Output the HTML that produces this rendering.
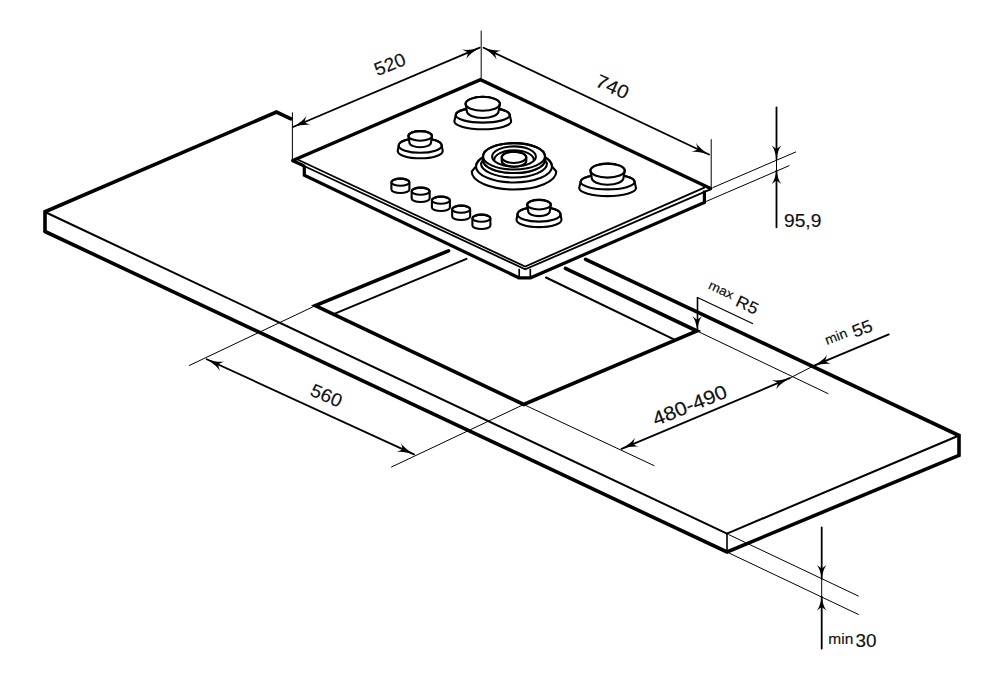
<!DOCTYPE html>
<html><head><meta charset="utf-8"><style>
html,body{margin:0;padding:0;background:#fff;}
body{width:1000px;height:690px;overflow:hidden;}
svg{display:block;}
text{font-family:"Liberation Sans",sans-serif;fill:#111;stroke:#111;stroke-width:0.15px;}
</style></head><body>
<svg width="1000" height="690" viewBox="0 0 1000 690">
<rect width="1000" height="690" fill="#fff"/>
<g fill="none" stroke="#000">
<path d="M45,212 L727,533.6" stroke-width="2" stroke-linecap="round" stroke-linejoin="miter"/>
<path d="M727,533.6 L959,435.5" stroke-width="2" stroke-linecap="round" stroke-linejoin="miter"/>
<path d="M727,533.6 L727,552" stroke-width="1.6" stroke-linecap="round" stroke-linejoin="miter"/>
<path d="M45,231.5 L45,211.8 L276.5,112 L292,119.3" stroke-width="3.6" stroke-linecap="butt" stroke-linejoin="miter"/>
<path d="M585.6,259.3 L959,435.5 L959,455.3 L727,552 L45,231.5" stroke-width="3.6" stroke-linecap="round" stroke-linejoin="miter"/>
<path d="M448.5,250.8 L315.3,305.7 L523.7,404.5 L697,331 L565.4,268.4" stroke-width="3.6" stroke-linecap="round" stroke-linejoin="miter"/>
<path d="M334.2,313.8 L466.5,258.9" stroke-width="2" stroke-linecap="round" stroke-linejoin="miter"/>
<path d="M546,277.5 L673.9,339.4" stroke-width="2" stroke-linecap="round" stroke-linejoin="miter"/>
<path d="M315.3,305.7 L189.3,365.5" stroke-width="1" stroke-linecap="round" stroke-linejoin="miter"/>
<path d="M523.7,404.5 L391.5,467" stroke-width="1" stroke-linecap="round" stroke-linejoin="miter"/>
<path d="M523.7,404.5 L654,465.6" stroke-width="1" stroke-linecap="round" stroke-linejoin="miter"/>
<path d="M697,331 L828,393.6" stroke-width="1" stroke-linecap="round" stroke-linejoin="miter"/>
<path d="M728.7,534.6 L858.3,596" stroke-width="1" stroke-linecap="round" stroke-linejoin="miter"/>
<path d="M728.7,552.9 L858.3,614.4" stroke-width="1" stroke-linecap="round" stroke-linejoin="miter"/>
<path d="M292.4,112.8 L292.4,159.3" stroke-width="1" stroke-linecap="round" stroke-linejoin="miter"/>
<path d="M481.2,31 L481.2,77.7" stroke-width="1" stroke-linecap="round" stroke-linejoin="miter"/>
<path d="M711.2,139.6 L711.2,186.7" stroke-width="1" stroke-linecap="round" stroke-linejoin="miter"/>
<path d="M712.9,187.6 L795.7,152" stroke-width="1" stroke-linecap="round" stroke-linejoin="miter"/>
<path d="M705.8,201.6 L789.1,165.7" stroke-width="1" stroke-linecap="round" stroke-linejoin="miter"/>
<path d="M292.8,160.5 L480.5,79.7 L710.6,188.5 L704.4,191.5 L704.4,202.4 L530.6,277.8 L518.8,277.8 L304.3,175.3 L304.3,166Z" stroke-width="0.1" fill="#fff" stroke-linejoin="miter"/>
<path d="M304.3,165.5 L304.3,175.3 L518.8,277.8 L530.6,277.8 L704.4,202.4 L704.4,190.5" stroke-width="3.2" stroke-linecap="butt" stroke-linejoin="miter"/>
<path d="M519.2,268.8 L519.2,277.5" stroke-width="1.7" stroke-linecap="butt" stroke-linejoin="miter"/>
<path d="M530.3,268.8 L530.3,277.5" stroke-width="1.7" stroke-linecap="butt" stroke-linejoin="miter"/>
<path d="M304.3,166 L292.8,160.8" stroke-width="3.2" stroke-linecap="butt" stroke-linejoin="miter"/>
<path d="M292.8,160.8 L525.2,269.3 L710.4,189.4" stroke-width="1.8" stroke-linecap="round" stroke-linejoin="miter"/>
<path d="M296,158.8 L525.2,266.55 L704.3,187.6" stroke-width="1.8" stroke-linecap="round" stroke-linejoin="miter"/>
<path d="M292.8,160.5 L480.5,79.7 L710.6,188.5" stroke-width="3.4" stroke-linecap="round" stroke-linejoin="miter"/>
<path d="M455.75,115 A27,7.6 0 0 1 509.75,115 L511.15,121.3 A28.4,8 0 0 1 454.35,121.3Z" stroke-width="2.1" fill="#fff" stroke-linejoin="round"/>
<ellipse cx="482.75" cy="115" rx="27" ry="7.6" stroke-width="2.1" fill="none"/>
<path d="M465.55,103.8 A17.2,7 0 0 1 499.95,103.8 L498.65,111 A15.9,7 0 0 1 466.85,111Z" stroke-width="2.1" fill="#fff" stroke-linejoin="round"/>
<ellipse cx="482.75" cy="103.8" rx="17.2" ry="7" stroke-width="2.1" fill="none"/>
<path d="M398.7,145.4 A21.5,7.4 0 0 1 441.7,145.4 L442.7,150.9 A22.5,7.4 0 0 1 397.7,150.9Z" stroke-width="2.1" fill="#fff" stroke-linejoin="round"/>
<ellipse cx="420.2" cy="145.4" rx="21.5" ry="7.4" stroke-width="2.1" fill="none"/>
<path d="M408.4,135.9 A11.8,4.8 0 0 1 432,135.9 L431,142.5 A10.8,4.8 0 0 1 409.4,142.5Z" stroke-width="2.1" fill="#fff" stroke-linejoin="round"/>
<ellipse cx="420.2" cy="135.9" rx="11.8" ry="4.8" stroke-width="2.1" fill="none"/>
<path d="M580.6,181.8 A27,7.6 0 0 1 634.6,181.8 L636,188.1 A28.4,8 0 0 1 579.2,188.1Z" stroke-width="2.1" fill="#fff" stroke-linejoin="round"/>
<ellipse cx="607.6" cy="181.8" rx="27" ry="7.6" stroke-width="2.1" fill="none"/>
<path d="M590.4,170.6 A17.2,7 0 0 1 624.8,170.6 L623.5,177.8 A15.9,7 0 0 1 591.7,177.8Z" stroke-width="2.1" fill="#fff" stroke-linejoin="round"/>
<ellipse cx="607.6" cy="170.6" rx="17.2" ry="7" stroke-width="2.1" fill="none"/>
<path d="M517.5,214.2 A21.5,7.4 0 0 1 560.5,214.2 L561.5,219.7 A22.5,7.4 0 0 1 516.5,219.7Z" stroke-width="2.1" fill="#fff" stroke-linejoin="round"/>
<ellipse cx="539" cy="214.2" rx="21.5" ry="7.4" stroke-width="2.1" fill="none"/>
<path d="M527.2,204.7 A11.8,4.8 0 0 1 550.8,204.7 L549.8,211.3 A10.8,4.8 0 0 1 528.2,211.3Z" stroke-width="2.1" fill="#fff" stroke-linejoin="round"/>
<ellipse cx="539" cy="204.7" rx="11.8" ry="4.8" stroke-width="2.1" fill="none"/>
<path d="M476,166.5 A38,16 0 0 1 552,166.5 L556.3,171.5 A42.3,18 0 0 1 471.7,171.5Z" stroke-width="2.1" fill="#fff" stroke-linejoin="round"/>
<ellipse cx="514" cy="166.5" rx="38" ry="16" stroke-width="2.1" fill="none"/>
<path d="M483,160 A31,13 0 0 1 545,160 L547,163.5 A33,14 0 0 1 481,163.5Z" stroke-width="2.1" fill="#fff" stroke-linejoin="round"/>
<ellipse cx="514" cy="160" rx="31" ry="13" stroke-width="2.1" fill="none"/>
<path d="M483,156.3 A31,13.2 0 0 1 545,156.3 L545,160 A31,13 0 0 1 483,160Z" stroke-width="2.1" fill="#fff" stroke-linejoin="round"/>
<ellipse cx="514" cy="156.3" rx="31" ry="13.2" stroke-width="2.1" fill="none"/>
<ellipse cx="514" cy="156.5" rx="21.9" ry="10.1" stroke-width="2.1" fill="none"/>
<path d="M494.2,160 A19.8,9.8 0 0 1 533.8,160" stroke-width="2.1"/>
<path d="M501.7,157.35 A12.3,5.6 0 0 1 526.3,157.35 L526.3,161 A12.3,5.6 0 0 1 501.7,161Z" stroke-width="2.1" fill="#fff" stroke-linejoin="round"/>
<ellipse cx="514" cy="157.35" rx="12.3" ry="5.6" stroke-width="2.1" fill="none"/>
<path d="M391.4,182.2 A9,3.6 0 0 1 409.4,182.2 L409.4,189.4 A9,3.6 0 0 1 391.4,189.4Z" stroke-width="2.1" fill="#fff" stroke-linejoin="round"/>
<ellipse cx="400.4" cy="182.2" rx="9" ry="3.6" stroke-width="2.1" fill="none"/>
<path d="M411.65,191.2 A9,3.6 0 0 1 429.65,191.2 L429.65,198.4 A9,3.6 0 0 1 411.65,198.4Z" stroke-width="2.1" fill="#fff" stroke-linejoin="round"/>
<ellipse cx="420.65" cy="191.2" rx="9" ry="3.6" stroke-width="2.1" fill="none"/>
<path d="M431.9,200.2 A9,3.6 0 0 1 449.9,200.2 L449.9,207.4 A9,3.6 0 0 1 431.9,207.4Z" stroke-width="2.1" fill="#fff" stroke-linejoin="round"/>
<ellipse cx="440.9" cy="200.2" rx="9" ry="3.6" stroke-width="2.1" fill="none"/>
<path d="M452.15,209.2 A9,3.6 0 0 1 470.15,209.2 L470.15,216.4 A9,3.6 0 0 1 452.15,216.4Z" stroke-width="2.1" fill="#fff" stroke-linejoin="round"/>
<ellipse cx="461.15" cy="209.2" rx="9" ry="3.6" stroke-width="2.1" fill="none"/>
<path d="M472.4,218.2 A9,3.6 0 0 1 490.4,218.2 L490.4,225.4 A9,3.6 0 0 1 472.4,225.4Z" stroke-width="2.1" fill="#fff" stroke-linejoin="round"/>
<ellipse cx="481.4" cy="218.2" rx="9" ry="3.6" stroke-width="2.1" fill="none"/>
<path d="M293,127 L479.7,47.7" stroke-width="1.8" stroke-linecap="round" stroke-linejoin="miter"/>
<path transform="translate(293,127) rotate(-23.01)" d="M0,0 C7.65,-1.17 13.6,-2.65 17,-5.3 Q13.7,-1.85 12.5,0 Q13.7,1.85 17,5.3 C13.6,2.65 7.65,1.17 0,0Z" fill="#000" stroke="none"/>
<path transform="translate(479.7,47.7) rotate(156.99)" d="M0,0 C7.65,-1.17 13.6,-2.65 17,-5.3 Q13.7,-1.85 12.5,0 Q13.7,1.85 17,5.3 C13.6,2.65 7.65,1.17 0,0Z" fill="#000" stroke="none"/>
<path d="M483.6,47.7 L709,154.5" stroke-width="1.8" stroke-linecap="round" stroke-linejoin="miter"/>
<path transform="translate(483.6,47.7) rotate(25.35)" d="M0,0 C7.65,-1.17 13.6,-2.65 17,-5.3 Q13.7,-1.85 12.5,0 Q13.7,1.85 17,5.3 C13.6,2.65 7.65,1.17 0,0Z" fill="#000" stroke="none"/>
<path transform="translate(709,154.5) rotate(-154.65)" d="M0,0 C7.65,-1.17 13.6,-2.65 17,-5.3 Q13.7,-1.85 12.5,0 Q13.7,1.85 17,5.3 C13.6,2.65 7.65,1.17 0,0Z" fill="#000" stroke="none"/>
<path d="M776.5,107.4 L776.5,159.1" stroke-width="1.8" stroke-linecap="round" stroke-linejoin="miter"/>
<path d="M776.5,159.1 L776.5,170.4" stroke-width="1" stroke-linecap="round" stroke-linejoin="miter"/>
<path d="M776.5,170.4 L776.5,227.3" stroke-width="1.8" stroke-linecap="round" stroke-linejoin="miter"/>
<path transform="translate(776.5,159.1) rotate(-90)" d="M0,0 C6.08,-1.06 10.8,-2.4 13.5,-4.8 Q11.2,-1.68 10,0 Q11.2,1.68 13.5,4.8 C10.8,2.4 6.08,1.06 0,0Z" fill="#000" stroke="none"/>
<path transform="translate(776.5,170.4) rotate(90)" d="M0,0 C6.08,-1.06 10.8,-2.4 13.5,-4.8 Q11.2,-1.68 10,0 Q11.2,1.68 13.5,4.8 C10.8,2.4 6.08,1.06 0,0Z" fill="#000" stroke="none"/>
<path d="M821.7,527.5 L821.7,578.5" stroke-width="1.8" stroke-linecap="round" stroke-linejoin="miter"/>
<path d="M821.7,578.5 L821.7,597" stroke-width="1" stroke-linecap="round" stroke-linejoin="miter"/>
<path d="M821.7,597 L821.7,648.5" stroke-width="1.8" stroke-linecap="round" stroke-linejoin="miter"/>
<path transform="translate(821.7,578.5) rotate(-90)" d="M0,0 C6.08,-1.06 10.8,-2.4 13.5,-4.8 Q11.2,-1.68 10,0 Q11.2,1.68 13.5,4.8 C10.8,2.4 6.08,1.06 0,0Z" fill="#000" stroke="none"/>
<path transform="translate(821.7,597) rotate(90)" d="M0,0 C6.08,-1.06 10.8,-2.4 13.5,-4.8 Q11.2,-1.68 10,0 Q11.2,1.68 13.5,4.8 C10.8,2.4 6.08,1.06 0,0Z" fill="#000" stroke="none"/>
<path d="M206.7,359.2 L414,454.4" stroke-width="1.8" stroke-linecap="round" stroke-linejoin="miter"/>
<path transform="translate(206.7,359.2) rotate(24.67)" d="M0,0 C7.65,-1.17 13.6,-2.65 17,-5.3 Q13.7,-1.85 12.5,0 Q13.7,1.85 17,5.3 C13.6,2.65 7.65,1.17 0,0Z" fill="#000" stroke="none"/>
<path transform="translate(414,454.4) rotate(-155.33)" d="M0,0 C7.65,-1.17 13.6,-2.65 17,-5.3 Q13.7,-1.85 12.5,0 Q13.7,1.85 17,5.3 C13.6,2.65 7.65,1.17 0,0Z" fill="#000" stroke="none"/>
<path d="M621.6,448.8 L789.6,378.2" stroke-width="1.8" stroke-linecap="round" stroke-linejoin="miter"/>
<path d="M789.6,378.2 L813.6,365.9" stroke-width="1" stroke-linecap="round" stroke-linejoin="miter"/>
<path d="M813.6,365.9 L888.8,334.4" stroke-width="1.8" stroke-linecap="round" stroke-linejoin="miter"/>
<path transform="translate(621.6,448.8) rotate(-22.79)" d="M0,0 C7.65,-1.17 13.6,-2.65 17,-5.3 Q13.7,-1.85 12.5,0 Q13.7,1.85 17,5.3 C13.6,2.65 7.65,1.17 0,0Z" fill="#000" stroke="none"/>
<path transform="translate(789.6,378.2) rotate(157.21)" d="M0,0 C7.65,-1.17 13.6,-2.65 17,-5.3 Q13.7,-1.85 12.5,0 Q13.7,1.85 17,5.3 C13.6,2.65 7.65,1.17 0,0Z" fill="#000" stroke="none"/>
<path transform="translate(813.6,365.9) rotate(-22.73)" d="M0,0 C7.65,-1.17 13.6,-2.65 17,-5.3 Q13.7,-1.85 12.5,0 Q13.7,1.85 17,5.3 C13.6,2.65 7.65,1.17 0,0Z" fill="#000" stroke="none"/>
<path d="M753,323.8 L697.5,297.5" stroke-width="1.2" stroke-linecap="butt" stroke-linejoin="miter"/>
<path d="M697.5,297 L697.5,329.8" stroke-width="1.6" stroke-linecap="butt" stroke-linejoin="miter"/>
<path transform="translate(697.2,329.8) rotate(-90)" d="M0,0 C6.08,-1.06 10.8,-2.4 13.5,-4.8 Q11.2,-1.68 10,0 Q11.2,1.68 13.5,4.8 C10.8,2.4 6.08,1.06 0,0Z" fill="#000" stroke="none"/>
<g transform="translate(389.7,64.2) rotate(-22) scale(1.04,1)"><text x="0" y="6.62" font-size="18.5" text-anchor="middle">520</text></g>
<g transform="translate(612.5,86.5) rotate(24) scale(1.07,1)"><text x="0" y="6.8" font-size="19" text-anchor="middle">740</text></g>
<g transform="translate(326.6,395.2) rotate(23) scale(1.05,1)"><text x="0" y="6.62" font-size="18.5" text-anchor="middle">560</text></g>
<g transform="translate(689.5,405) rotate(-22) scale(1.1,1)"><text x="0" y="6.98" font-size="19.5" text-anchor="middle">480-490</text></g>
<g transform="translate(784,226.7) rotate(0) scale(1.05,1)"><text x="0" y="0" xml:space="preserve"><tspan font-size="18.3">95,9</tspan></text></g>
<g transform="translate(707.7,287.7) rotate(25) scale(1.08,1)"><text x="0" y="0.6" font-size="13">max</text><text x="29.5" y="4.6" font-size="16.5">R5</text></g>
<g transform="translate(827,345) rotate(-21) scale(1.06,1)"><text x="0" y="0" font-size="13.5">min</text><text x="26.8" y="3.2" font-size="17.5">55</text></g>
<g transform="translate(828.3,643.8) rotate(0) scale(1.07,1)"><text x="0" y="0" xml:space="preserve"><tspan font-size="14.5">min</tspan></text></g>
<g transform="translate(855.5,647) rotate(0) scale(1.05,1)"><text x="0" y="0" xml:space="preserve"><tspan font-size="18">30</tspan></text></g>
</g>
</svg>
</body></html>
